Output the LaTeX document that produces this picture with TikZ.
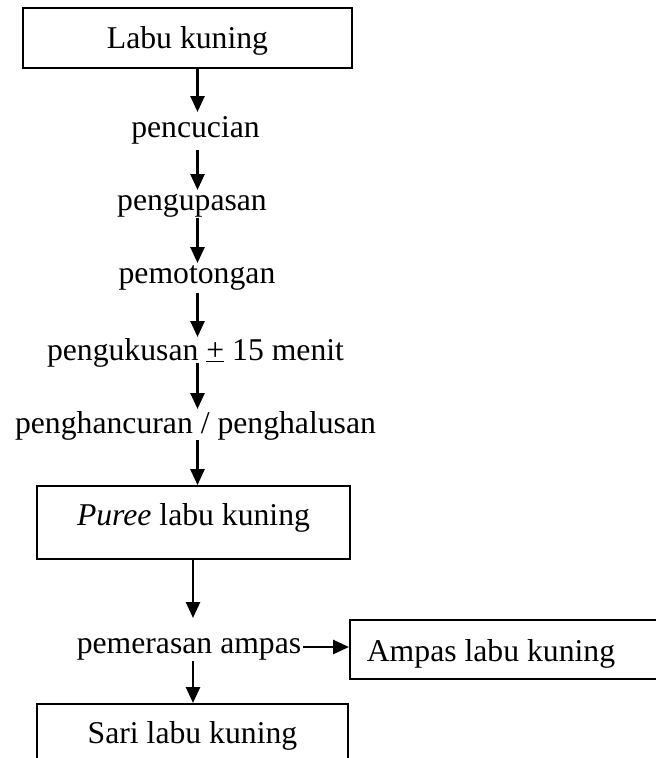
\documentclass[tikz,border=0pt]{standalone}
\usepackage{fontspec}
\setmainfont{Liberation Serif}
\usetikzlibrary{arrows.meta,calc}
\begin{document}
\begin{tikzpicture}[x=1pt,y=-1pt,
  every node/.style={font=\fontsize{31.7}{38}\selectfont},
  boxnode/.style={draw,line width=1.8pt,inner sep=0pt},
  lbl/.style={anchor=base,inner sep=0pt},
  arr/.style={line width=2.6pt,-{Triangle[length=16pt,width=14pt]}}]
\clip (0,0) rectangle (656,758);
\node[boxnode,minimum width=329pt,minimum height=60pt,text height=22pt,text depth=2pt] (labu) at (187.5,38) {Labu kuning};
\node[lbl] (cuci) at (195.5,137) {pencucian};
\node[lbl] (kupas) at (192,210) {pengupasan};
\node[lbl] (potong) at (197,283) {pemotongan};
\node[lbl] (kukus) at (195.5,360) {pengukusan \underline{+} 15 menit};
\node[lbl] (hancur) at (195.5,433) {penghancuran / penghalusan};
\node[boxnode,minimum width=313pt,minimum height=73pt,text height=12pt,text depth=7pt] (puree) at (193.5,522.5) {\textit{Puree} labu kuning};
\node[lbl] (peras) at (189,653) {pemerasan ampas};
\node[boxnode,anchor=north west,minimum width=322pt,minimum height=59pt] (ampas) at (349,619) {};
\node[lbl] (ampastxt) at (491,661) {Ampas labu kuning};
\node[boxnode,minimum width=311pt,minimum height=72pt,text height=15pt,text depth=7pt,anchor=north] (sari) at (192.5,703) {Sari labu kuning};
\coordinate (ax) at (197.5,0);
\coordinate (bx) at (193,0);
\coordinate (pe) at ($(peras.base east)+(2,-6)$);
\draw[arr] (labu.south -| ax) -- ($(cuci.base -| ax)+(0,-25)$);
\draw[arr] ($(cuci.base -| ax)+(0,13)$) -- ($(kupas.base -| ax)+(0,-20)$);
\draw[arr] ($(kupas.base -| ax)+(0,8)$) -- ($(potong.base -| ax)+(0,-20)$);
\draw[arr] ($(potong.base -| ax)+(0,10)$) -- ($(kukus.base -| ax)+(0,-23)$);
\draw[arr] ($(kukus.base -| ax)+(0,3)$) -- ($(hancur.base -| ax)+(0,-24)$);
\draw[arr] ($(hancur.base -| ax)+(0,7)$) -- (puree.north -| ax);
\draw[arr] (puree.south -| bx) -- ($(peras.base -| bx)+(0,-35)$);
\draw[arr] ($(peras.base -| bx)+(0,8)$) -- (sari.north -| bx);
\draw[arr] (pe) -- (pe -| ampas.west);
\end{tikzpicture}
\end{document}
